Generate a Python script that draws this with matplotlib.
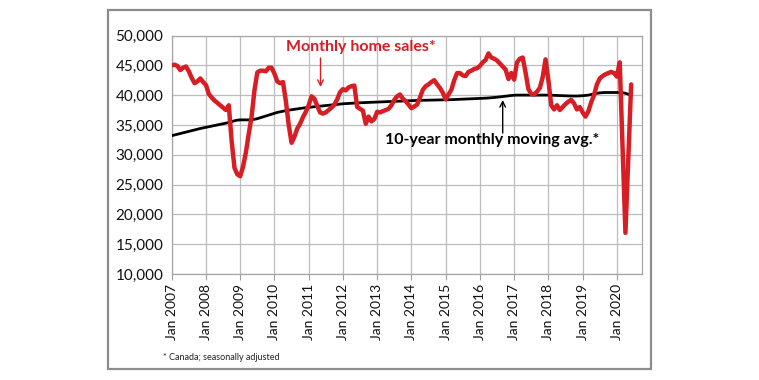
import matplotlib
matplotlib.use("Agg")
import matplotlib.pyplot as plt
from matplotlib.patches import Rectangle
import numpy as np

plt.rcParams['font.family'] = ['Lato', 'DejaVu Sans']

# Monthly home sales (Canada, seasonally adjusted), Jan 2007 - Jun 2020
sales_2007 = [45000, 45100, 44900, 44200, 44600, 44800, 44000, 42900, 42000, 42300, 42800, 42200]
sales_2008 = [41700, 40200, 39600, 39100, 38700, 38300, 37900, 37500, 38300, 32300, 27800, 26700]
sales_2009 = [26400, 28000, 30400, 33500, 36400, 40800, 43800, 44100, 44100, 44000, 44600, 44600]
sales_2010 = [43600, 42300, 42000, 42200, 39000, 35000, 32000, 33000, 34400, 35200, 36300, 37200]
sales_2011 = [38300, 39800, 39400, 38200, 37100, 36900, 37100, 37500, 37900, 38400, 39300, 40500]
sales_2012 = [41000, 40800, 41300, 41500, 41600, 38000, 37700, 37400, 35200, 36400, 35600, 36000]
sales_2013 = [37200, 37100, 37300, 37500, 37700, 38300, 39200, 39800, 40100, 39400, 39000, 38400]
sales_2014 = [37800, 38100, 38400, 39600, 40900, 41500, 41800, 42200, 42500, 41800, 41200, 40400]
sales_2015 = [39300, 40100, 40900, 42500, 43700, 43700, 43300, 43200, 43900, 44100, 44400, 44500]
sales_2016 = [44900, 45500, 45900, 47000, 46300, 46100, 45800, 45300, 44800, 44300, 42700, 43700]
sales_2017 = [42600, 45500, 46100, 46300, 43800, 41000, 40200, 40100, 40600, 41200, 43000, 46000]
sales_2018 = [42500, 38300, 37600, 38300, 37500, 38000, 38500, 38900, 39200, 38600, 37600, 38000]
sales_2019 = [37100, 36400, 37300, 38800, 40000, 41800, 42800, 43200, 43500, 43700, 43900, 43700]
sales_2020 = [43100, 45500, 31000, 16900, 29300, 41800]

# 10-year monthly moving average
ma_2007 = [33200, 33320, 33440, 33560, 33680, 33800, 33920, 34040, 34160, 34280, 34400, 34500]
ma_2008 = [34600, 34700, 34800, 34900, 35000, 35100, 35200, 35300, 35400, 35550, 35700, 35800]
ma_2009 = [35850, 35850, 35850, 35850, 35900, 35950, 36050, 36200, 36350, 36500, 36650, 36800]
ma_2010 = [36950, 37100, 37200, 37300, 37400, 37480, 37550, 37620, 37690, 37760, 37830, 37900]
ma_2011 = [37950, 38000, 38050, 38100, 38150, 38200, 38250, 38300, 38350, 38400, 38450, 38500]
ma_2012 = [38550, 38580, 38610, 38640, 38670, 38700, 38720, 38740, 38760, 38780, 38800, 38820]
ma_2013 = [38840, 38860, 38880, 38900, 38920, 38940, 38960, 38980, 39000, 39020, 39040, 39060]
ma_2014 = [39080, 39100, 39110, 39120, 39130, 39140, 39150, 39160, 39170, 39180, 39190, 39200]
ma_2015 = [39210, 39220, 39240, 39260, 39280, 39300, 39320, 39340, 39360, 39380, 39400, 39420]
ma_2016 = [39440, 39460, 39490, 39520, 39560, 39600, 39650, 39700, 39760, 39820, 39880, 39940]
ma_2017 = [39980, 40000, 40000, 40000, 40000, 40000, 40000, 40000, 40000, 40000, 40000, 40000]
ma_2018 = [40000, 39980, 39960, 39940, 39920, 39900, 39880, 39860, 39850, 39850, 39850, 39870]
ma_2019 = [39900, 39950, 40000, 40100, 40200, 40300, 40380, 40420, 40440, 40440, 40440, 40440]
ma_2020 = [40440, 40420, 40400, 40300, 40150, 40000]

sales = (sales_2007 + sales_2008 + sales_2009 + sales_2010 + sales_2011 + sales_2012 +
         sales_2013 + sales_2014 + sales_2015 + sales_2016 + sales_2017 + sales_2018 +
         sales_2019 + sales_2020)
moving_avg = (ma_2007 + ma_2008 + ma_2009 + ma_2010 + ma_2011 + ma_2012 + ma_2013 +
              ma_2014 + ma_2015 + ma_2016 + ma_2017 + ma_2018 + ma_2019 + ma_2020)

tick_labels = ["Jan 2007", "Jan 2008", "Jan 2009", "Jan 2010", "Jan 2011", "Jan 2012",
               "Jan 2013", "Jan 2014", "Jan 2015", "Jan 2016", "Jan 2017", "Jan 2018",
               "Jan 2019", "Jan 2020"]
y_ticks = [10000, 15000, 20000, 25000, 30000, 35000, 40000, 45000, 50000]

W, H = 759, 380
fig = plt.figure(figsize=(W / 100, H / 100), dpi=100)
fig.patch.set_facecolor('white')

# outer frame
fig.patches.append(Rectangle((108 / W, 1 - 369 / H), (651 - 108) / W, (369 - 10) / H,
                             transform=fig.transFigure, fill=False,
                             edgecolor='#8c8c8c', linewidth=1.6))

ax_l, ax_r, ax_t, ax_b = 171.7, 641.7, 35.5, 274.0
ax = fig.add_axes([ax_l / W, 1 - ax_b / H, (ax_r - ax_l) / W, (ax_b - ax_t) / H])

x = np.arange(len(sales))
ax.plot(x, moving_avg, color='black', lw=2.0, solid_capstyle='round', zorder=3)
ax.plot(x, sales, color='#D81E25', lw=3.2, solid_joinstyle='round',
        solid_capstyle='round', zorder=4)

ax.set_xlim(0, 164.7)
ax.set_ylim(10000, 50000)
ax.set_yticks(y_ticks)
ax.set_yticklabels([f"{v:,}" for v in y_ticks])
ax.set_xticks(np.arange(len(tick_labels)) * 12)
ax.set_xticklabels(tick_labels, rotation=90)
ax.tick_params(axis='y', length=0, pad=6, labelsize=11, labelcolor='#111111')
ax.tick_params(axis='x', length=4, width=0.8, color='#a0a0a0', pad=3,
               labelsize=10, labelcolor='#111111')
ax.grid(True, color='#bdbdbd', lw=0.9)
ax.set_axisbelow(True)
for s in ax.spines.values():
    s.set_color('#a6a6a6')
    s.set_linewidth(0.9)


def dx(px):
    return (px - ax_l) / (ax_r - ax_l) * 164.7


def dy(py):
    return 50000 - (py - ax_t) / (ax_b - ax_t) * 40000


ax.text(dx(360.5), dy(47.5), "Monthly home sales*", color='#D81E25',
        fontsize=11.5, fontweight='bold', ha='center', va='center', zorder=6)
ax.annotate("", xy=(dx(320.5), dy(87)), xytext=(dx(320.5), dy(58)),
            arrowprops=dict(arrowstyle='->', color='#D81E25', lw=1.0,
                            shrinkA=0, shrinkB=0), zorder=6)
ax.text(dx(492), dy(140), "10-year monthly moving avg.*", color='black',
        fontsize=11.5, fontweight='bold', ha='center', va='center', zorder=6)
ax.annotate("", xy=(dx(502.7), dy(100)), xytext=(dx(502.7), dy(133)),
            arrowprops=dict(arrowstyle='->', color='black', lw=1.0,
                            shrinkA=0, shrinkB=0), zorder=6)

fig.text(163 / W, 1 - 357 / H, "* Canada; seasonally adjusted", fontsize=6.5,
         color='#222222', ha='left', va='center')

fig.savefig("out.png", dpi=100, facecolor='white')
